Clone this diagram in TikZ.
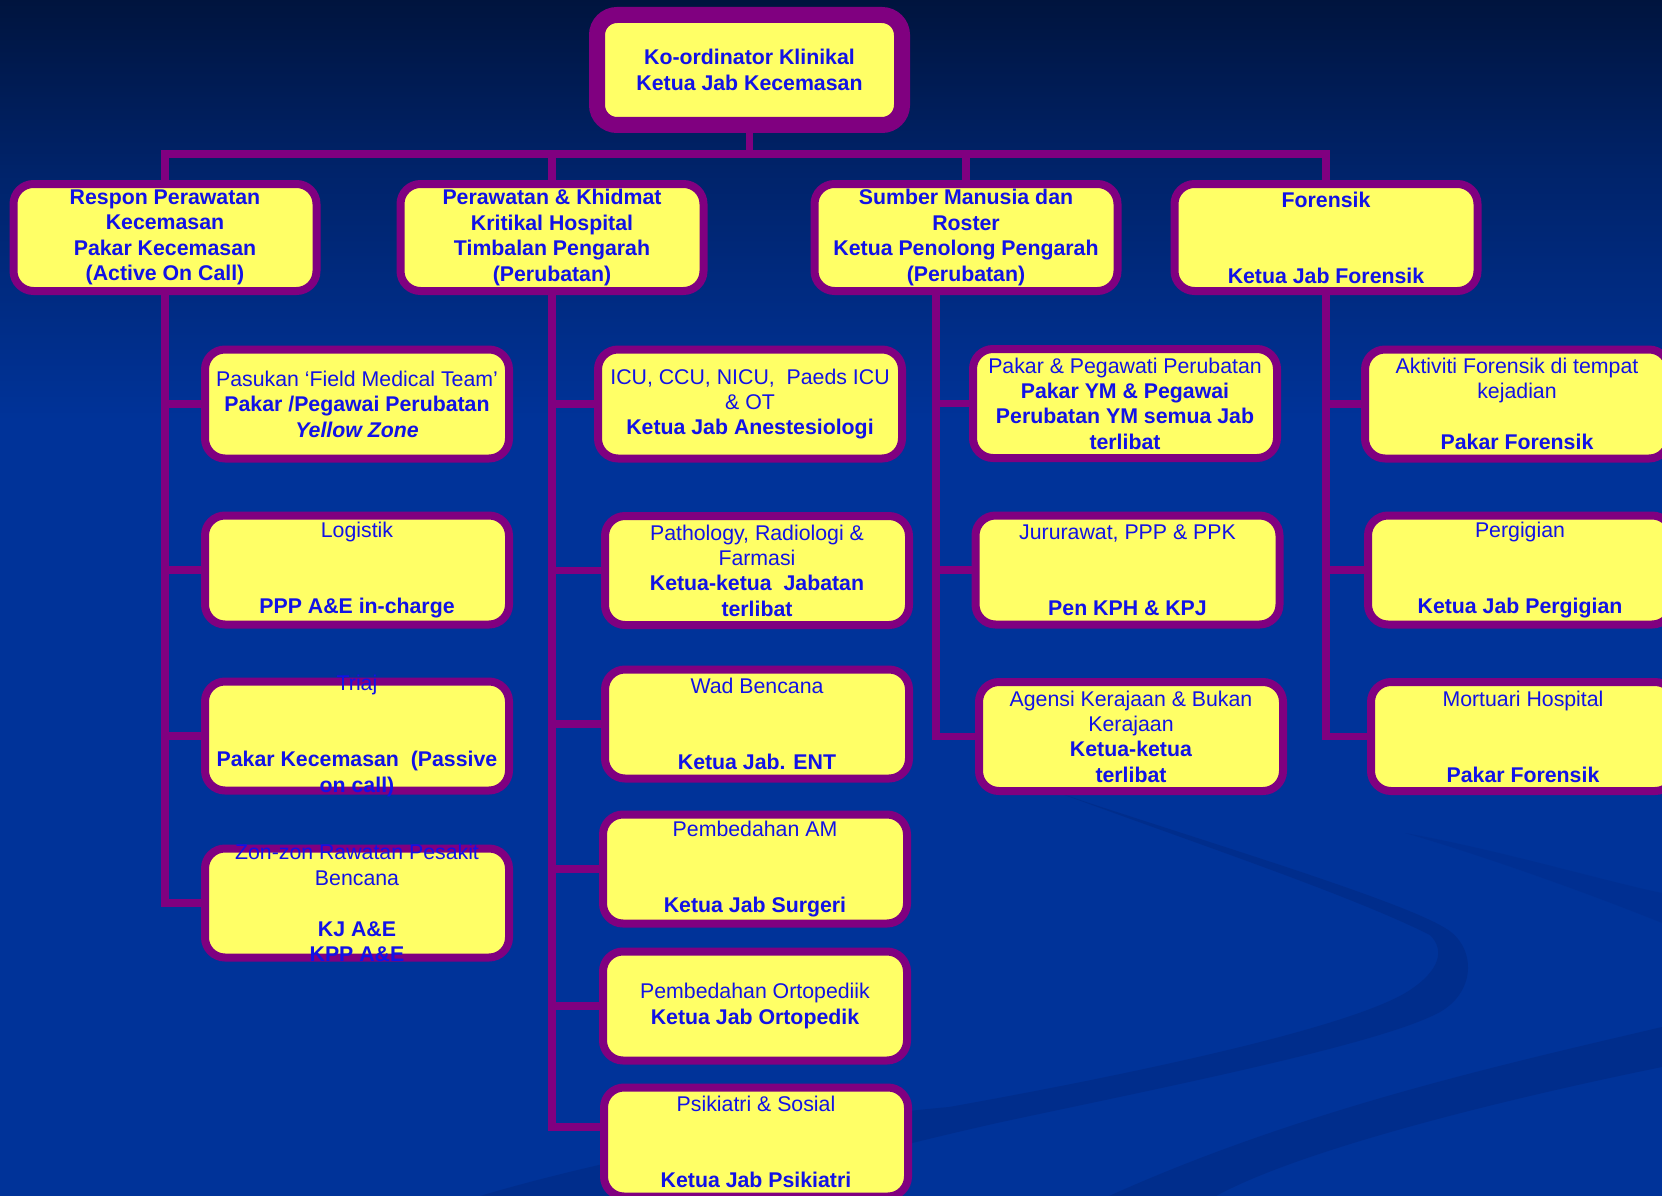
\documentclass[tikz,border=0pt]{standalone}
\usepackage{fontspec}
\setmainfont{Liberation Sans}
\definecolor{bgtop}{RGB}{0,20,62}
\definecolor{bgmid}{RGB}{0,35,106}
\definecolor{bgblue}{RGB}{0,51,153}
\definecolor{swooshc}{RGB}{0,45,140}
\definecolor{boxyellow}{RGB}{255,255,102}
\definecolor{boxpurple}{RGB}{128,0,128}
\definecolor{txtblue}{RGB}{18,18,230}
\pgfdeclarelayer{bg}
\pgfdeclarelayer{links}
\pgfsetlayers{bg,links,main}
\begin{document}
\begin{tikzpicture}[x=1pt,y=-1pt,
  box/.style={draw=boxpurple, fill=boxyellow, line width=8pt, rounded corners=20pt,
    minimum width=304pt, minimum height=109pt, inner sep=0pt, align=center,
    text=txtblue, font=\fontsize{21.3}{25.4}\selectfont,
    execute at begin node={\rule{0pt}{20pt}}},
  headbox/.style={box, minimum width=303pt, minimum height=107pt,
    font=\fontsize{21.3}{25.4}\selectfont\bfseries},
  topbox/.style={box, line width=16pt, minimum width=305pt, minimum height=110pt,
    rounded corners=20pt, font=\fontsize{21.3}{26}\selectfont\bfseries},
  boxtext/.style={inner sep=0pt, align=center, text=txtblue,
    font=\fontsize{21.3}{25.4}\selectfont,
    execute at begin node={\rule{0pt}{20pt}}},
  link/.style={draw=boxpurple, line width=7.5pt, line join=miter}
]
\useasboundingbox (0,0) rectangle (1662,1196);

% background
\begin{pgfonlayer}{bg}
\fill[bgblue] (0,0) rectangle (1662,1196);
\shade[top color=bgtop, bottom color=bgmid] (0,0) rectangle (1662,170.5);
\shade[top color=bgmid, bottom color=bgblue] (0,170) rectangle (1662,420);
\fill[swooshc] (1062,794) .. controls (1200,840) and (1400,900) .. (1445,928)
  .. controls (1475,945) and (1478,990) .. (1440,1012)
  .. controls (1380,1045) and (1150,1090) .. (997,1123)
  .. controls (900,1145) and (800,1170) .. (736,1196) -- (480,1196)
  .. controls (600,1160) and (800,1120) .. (949,1107)
  .. controls (1100,1080) and (1350,1030) .. (1410,990)
  .. controls (1440,970) and (1445,950) .. (1430,935)
  .. controls (1350,895) and (1200,845) .. cycle;
\fill[swooshc] (1662,1027) .. controls (1500,1065) and (1300,1110) .. (1109,1196)
  -- (1216,1196) .. controls (1300,1150) and (1500,1100) .. (1662,1067) -- cycle;
\fill[swooshc, opacity=0.5] (1405,833) .. controls (1500,850) and (1600,880) .. (1662,893)
  -- (1662,923) .. controls (1580,890) and (1480,855) .. cycle;
\end{pgfonlayer}

% top
\node[topbox] (top) at (749.5,70) {Ko-ordinator Klinikal\\Ketua Jab Kecemasan};

% level 2
\node[headbox] (B1) at (165,237.5) {Respon Perawatan\\Kecemasan\\Pakar Kecemasan\\(Active On Call)};
\node[headbox] (B2) at (552,237.5) {Perawatan \& Khidmat\\Kritikal Hospital\\Timbalan Pengarah\\(Perubatan)};
\node[headbox] (B3) at (966,237.5) {Sumber Manusia dan\\Roster\\Ketua Penolong Pengarah\\(Perubatan)};
\node[headbox] (B4) at (1326,237.5) {Forensik\\\mbox{}\\\mbox{}\\Ketua Jab Forensik};

% column 1
\node[box] (C1a) at (357,404) {Pasukan `Field Medical Team'\\\textbf{Pakar /Pegawai Perubatan}\\\textbf{\itshape Yellow Zone}};
\node[box] (C1b) at (357,570) {Logistik\\\mbox{}\\\mbox{}\\\textbf{PPP A\&E in-charge}};
\node[box] (C1c) at (357,736) {};
\node[boxtext] (C1cT) at (C1c) {Triaj\\\mbox{}\\\mbox{}\\\textbf{Pakar Kecemasan\ \ (Passive}\\\textbf{on call)}};
\node[box] (C1d) at (357,903) {};
\node[boxtext] (C1dT) at (C1d) {Zon-zon Rawatan Pesakit\\Bencana\\\mbox{}\\\textbf{KJ A\&E}\\\textbf{KPP A\&E}};

% column 2
\node[box] (C2a) at (750,404) {ICU, CCU, NICU,\ \ Paeds ICU\\\& OT\\\textbf{Ketua Jab Anestesiologi}};
\node[box] (C2b) at (757,570.5) {Pathology, Radiologi \&\\Farmasi\\\textbf{Ketua-ketua\ \ Jabatan}\\\textbf{terlibat}};
\node[box] (C2c) at (757,724) {Wad Bencana\\\mbox{}\\\mbox{}\\\textbf{Ketua Jab. ENT}};
\node[box] (C2d) at (755,869) {Pembedahan AM\\\mbox{}\\\mbox{}\\\textbf{Ketua Jab Surgeri}};
\node[box] (C2e) at (755,1006) {Pembedahan Ortopediik\\\textbf{Ketua Jab Ortopedik}};
\node[box] (C2f) at (756,1142) {Psikiatri \& Sosial\\\mbox{}\\\mbox{}\\\textbf{Ketua Jab Psikiatri}};

% column 3
\node[box] (C3a) at (1125,403.5) {Pakar \& Pegawati Perubatan\\\textbf{Pakar YM \& Pegawai}\\\textbf{Perubatan YM semua Jab}\\\textbf{terlibat}};
\node[box] (C3b) at (1127.5,570) {Jururawat, PPP \& PPK\\\mbox{}\\\mbox{}\\\textbf{Pen KPH \& KPJ}};
\node[box] (C3c) at (1131,736.5) {Agensi Kerajaan \& Bukan\\Kerajaan\\\textbf{Ketua-ketua}\\\textbf{terlibat}};

% column 4
\node[box] (C4a) at (1517,404) {Aktiviti Forensik di tempat\\kejadian\\\mbox{}\\\textbf{Pakar Forensik}};
\node[box] (C4b) at (1520,570) {Pergigian\\\mbox{}\\\mbox{}\\\textbf{Ketua Jab Pergigian}};
\node[box] (C4c) at (1523,736.5) {Mortuari Hospital\\\mbox{}\\\mbox{}\\\textbf{Pakar Forensik}};

% connectors
\begin{pgfonlayer}{links}
\coordinate (bus) at (0,154);
\draw[link] (B1) -- (B1 |- bus) -- (B4 |- bus) -- (B4);
\draw[link] (top) -- (top |- bus);
\draw[link] (B2) -- (B2 |- bus);
\draw[link] (B3) -- (B3 |- bus);
% col 1
\draw[link] (B1) -- (B1 |- C1d) -- (C1d);
\foreach \n in {C1a,C1b,C1c} \draw[link] (B1 |- \n) -- (\n);
% col 2
\coordinate (end2) at (552,1127);
\draw[link] (B2) -- (end2) -- (end2 -| C2f);
\foreach \n in {C2a,C2b,C2c,C2d,C2e} \draw[link] (B2 |- \n) -- (\n);
% col 3
\coordinate (T3) at (936,0);
\draw[link] (T3 |- B3) -- (T3 |- C3c) -- (C3c);
\foreach \n in {C3a,C3b} \draw[link] (T3 |- \n) -- (\n);
% col 4
\draw[link] (B4) -- (B4 |- C4c) -- (C4c);
\foreach \n in {C4a,C4b} \draw[link] (B4 |- \n) -- (\n);
\end{pgfonlayer}
\end{tikzpicture}
\end{document}
